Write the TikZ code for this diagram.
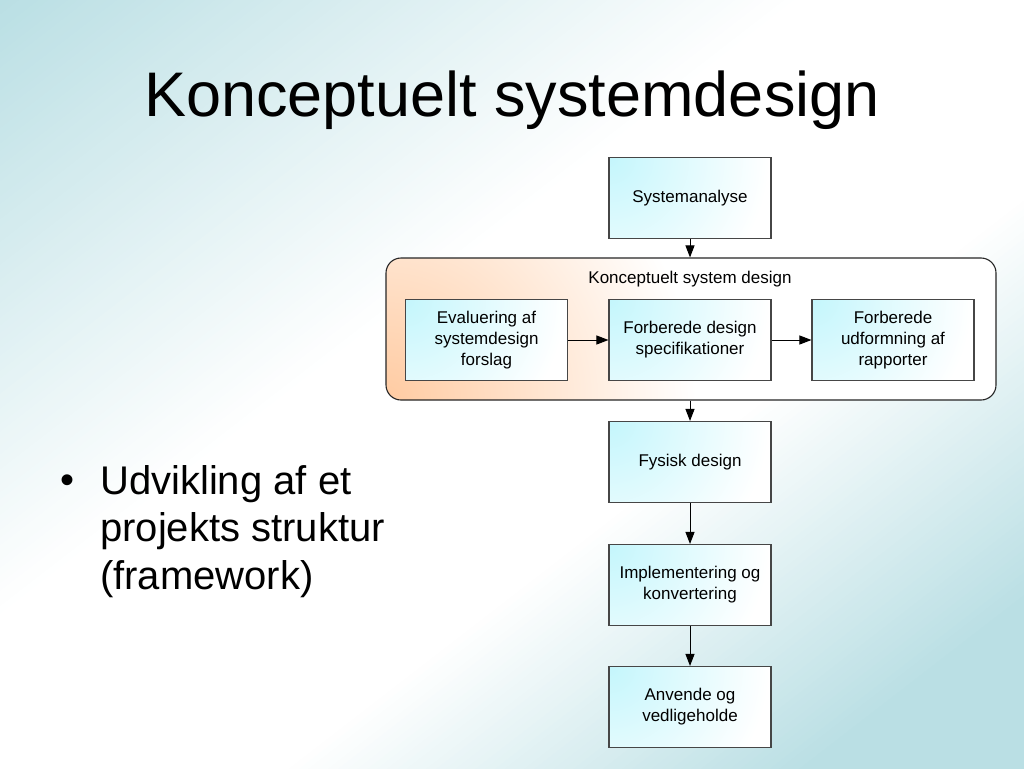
\documentclass[tikz,border=0pt]{standalone}
\usepackage{fontspec}
\setmainfont{Liberation Sans}
\usetikzlibrary{arrows.meta}
\definecolor{bgteal}{RGB}{186,223,228}
\definecolor{boxcyan}{RGB}{196,246,252}
\definecolor{contorange}{RGB}{255,203,162}
\definecolor{boxline}{RGB}{70,70,70}
\tikzset{
  procbox/.style={draw=boxline, line width=1.1pt, minimum width=162pt, minimum height=81pt,
    align=center, inner sep=2pt, font=\fontsize{17}{21}\selectfont,
    path picture={\fill[white] (path picture bounding box.south west) rectangle (path picture bounding box.north east);
      \shade[inner color=boxcyan, outer color=white] (path picture bounding box.north west) circle (160pt);}},
  container/.style={draw=black!85, line width=1.1pt, rounded corners=15pt, minimum width=610pt, minimum height=142pt,
    path picture={\fill[white] (path picture bounding box.south west) rectangle (path picture bounding box.north east);
      \shade[inner color=contorange, outer color=white] (path picture bounding box.south west) circle (310pt);}},
  flow/.style={-{Triangle[length=12pt,width=9pt]}, line width=1pt, black},
}
\begin{document}
\begin{tikzpicture}[x=1pt,y=-1pt]
\useasboundingbox (0,0) rectangle (1024,768);
% background: diagonal teal -> white -> teal gradient
\begin{scope}
\clip (0,0) rectangle (1024,768);
\begin{scope}[rotate=-52.3]
\foreach \s in {0,6,...,1260} {
  \pgfmathsetmacro\pct{\s<484 ? 100-\s/4.84 : (\s<780 ? 0 : (\s<1100 ? (\s-780)/3.2 : 100))}
  \fill[bgteal!\pct!white] (\s-0.6,-1400) rectangle (\s+6.6,1400);
}
\end{scope}
\end{scope}

\node[font=\fontsize{63}{70}\selectfont, inner sep=0] (title) at (512,100) {Konceptuelt systemdesign};

\node[font=\fontsize{40}{47.5}\selectfont, inner sep=0, anchor=base west] (bullet) at (60,493) {•};
\node[font=\fontsize{40}{47.5}\selectfont, inner sep=0, anchor=north west, align=left] (btext) at (100,465) {Udvikling af et\\projekts struktur\\(framework)};

\node[container] (cont) at (691,329) {};
\node[font=\fontsize{17}{21}\selectfont, inner sep=0] (contlabel) at (690,279) {Konceptuelt system design};

\node[procbox] (sa) at (690,198) {Systemanalyse};
\node[procbox] (ev) at (486.5,340) {Evaluering af\\systemdesign\\forslag};
\node[procbox] (fd) at (690,340) {Forberede design\\specifikationer};
\node[procbox] (fu) at (893,340) {Forberede\\udformning af\\rapporter};
\node[procbox] (fy) at (690,462) {Fysisk design};
\node[procbox] (im) at (690,585) {Implementering og\\konvertering};
\node[procbox] (an) at (690,707) {Anvende og\\vedligeholde};

\draw[flow] (sa.south) -- (sa.south |- cont.north);
\draw[flow] (ev.east) -- (fd.west);
\draw[flow] (fd.east) -- (fu.west);
\draw[flow] (cont.south -| fy.north) -- (fy.north);
\draw[flow] (fy.south) -- (im.north);
\draw[flow] (im.south) -- (an.north);
\end{tikzpicture}
\end{document}
